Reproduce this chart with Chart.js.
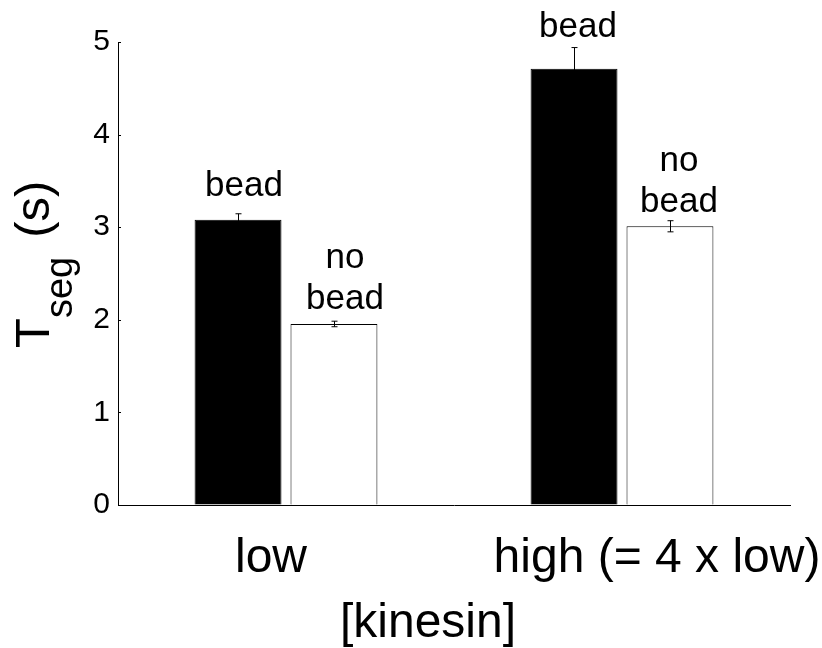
<!DOCTYPE html>
<html>
<head>
<meta charset="utf-8">
<script src="https://cdn.jsdelivr.net/npm/chart.js@4"></script>
<style>
  html, body { margin: 0; padding: 0; background: #fff; }
  #wrap { width: 822px; height: 648px; }
</style>
</head>
<body>
<div id="wrap"><canvas id="chart" width="822" height="648"></canvas></div>
<script>
// data
const categories = ["low", "high (= 4 x low)"];
const seriesNames = ["bead", "no bead"];
const beadValues = [3.08, 4.71];
const beadErrors = [0.065, 0.23];
const noBeadValues = [1.955, 3.01];
const noBeadErrors = [0.03, 0.06];
const yTicks = [0, 1, 2, 3, 4, 5];
const xTitle = "[kinesin]";

const FONT = "'Liberation Sans', Arial, Helvetica, sans-serif";

// hand placement of the text, like the original figure
const xLabelShift = [-15, 35];
const barLabelShift = [[6, 11], [4, 9]];      // [category][dataset] x shift
const barLabelGap = [[24, 15], [32, 14]];     // baseline distance above bar top

const errorPlugin = {
  id: "errorBars",
  afterDatasetsDraw(chart) {
    const ctx = chart.ctx;
    const y = chart.scales.y;
    const errs = [beadErrors, noBeadErrors];
    ctx.save();
    ctx.strokeStyle = "#000";
    ctx.lineWidth = 1;
    chart.data.datasets.forEach((ds, di) => {
      const meta = chart.getDatasetMeta(di);
      meta.data.forEach((bar, i) => {
        const v = ds.data[i];
        const e = errs[di][i];
        const x = Math.round(bar.x) + 0.5;
        const top = y.getPixelForValue(v + e);
        const bot = y.getPixelForValue(v - e);
        ctx.beginPath();
        ctx.moveTo(x, top); ctx.lineTo(x, bot);
        ctx.moveTo(x - 3, top); ctx.lineTo(x + 3, top);
        ctx.moveTo(x - 3, bot); ctx.lineTo(x + 3, bot);
        ctx.stroke();
      });
    });
    ctx.restore();
  }
};

const textPlugin = {
  id: "figureText",
  afterDraw(chart) {
    const ctx = chart.ctx;
    const xs = chart.scales.x;
    const area = chart.chartArea;
    ctx.save();
    ctx.fillStyle = "#000";

    // small inward ticks on y axis
    ctx.strokeStyle = "#000";
    ctx.lineWidth = 1;
    yTicks.forEach(v => {
      const py = Math.round(chart.scales.y.getPixelForValue(v)) + 0.5;
      ctx.beginPath();
      ctx.moveTo(area.left, py); ctx.lineTo(area.left + 3, py);
      ctx.stroke();
    });

    // labels over bars
    ctx.textAlign = "center";
    ctx.textBaseline = "alphabetic";
    ctx.font = "35px " + FONT;
    chart.data.datasets.forEach((ds, di) => {
      const meta = chart.getDatasetMeta(di);
      meta.data.forEach((bar, i) => {
        const words = seriesNames[di].split(" ");
        const x = bar.x + barLabelShift[i][di];
        const base = bar.y - barLabelGap[i][di];
        for (let k = words.length - 1, line = 0; k >= 0; k--, line++) {
          ctx.fillText(words[k], x, base - line * 41);
        }
      });
    });

    // category labels
    ctx.font = "48px " + FONT;
    categories.forEach((c, i) => {
      ctx.fillText(c, xs.getPixelForValue(i) + xLabelShift[i], 572);
    });

    // x title
    ctx.fillText(xTitle, 428, 637);

    // y title: T_seg (s)
    ctx.translate(49, 348);
    ctx.rotate(-Math.PI / 2);
    ctx.textAlign = "left";
    ctx.font = "49px " + FONT;
    ctx.fillText("T", 0, 0);
    let pos = ctx.measureText("T").width;
    ctx.font = "38px " + FONT;
    ctx.fillText("seg", pos, 23);
    pos += ctx.measureText("seg").width + 19;
    ctx.font = "49px " + FONT;
    ctx.fillText("(s)", pos, 0);
    ctx.restore();
  }
};

const ctx = document.getElementById("chart").getContext("2d");
const chart = new Chart(ctx, {
  type: "bar",
  data: {
    labels: categories,
    datasets: [
      {
        label: seriesNames[0],
        data: beadValues,
        backgroundColor: "#000",
        borderColor: "#000",
        borderWidth: 1,
        barPercentage: 0.906,
        categoryPercentage: 0.571
      },
      {
        label: seriesNames[1],
        data: noBeadValues,
        backgroundColor: "#fff",
        borderColor: "#000",
        borderWidth: 1,
        barPercentage: 0.906,
        categoryPercentage: 0.571
      }
    ]
  },
  options: {
    responsive: false,
    animation: false,
    devicePixelRatio: 1,
    layout: { padding: { top: 42, right: 32, left: 0, bottom: 0 } },
    plugins: {
      legend: { display: false },
      tooltip: { enabled: false }
    },
    scales: {
      x: {
        offset: true,
        grid: { display: true, drawOnChartArea: false, drawTicks: false },
        border: { display: true, color: "#000", width: 1 },
        ticks: { display: false },
        afterFit: (scale) => { scale.height = 143; }
      },
      y: {
        min: 0,
        max: 5,
        afterBuildTicks: (scale) => { scale.ticks = yTicks.map(v => ({ value: v })); },
        grid: { display: true, drawOnChartArea: false, drawTicks: false },
        border: { display: true, color: "#000", width: 1 },
        ticks: {
          color: "#000",
          padding: 8,
          font: { family: FONT, size: 30 }
        },
        afterFit: (scale) => { scale.width = 118; }
      }
    }
  },
  plugins: [errorPlugin, textPlugin]
});
</script>
</body>
</html>
